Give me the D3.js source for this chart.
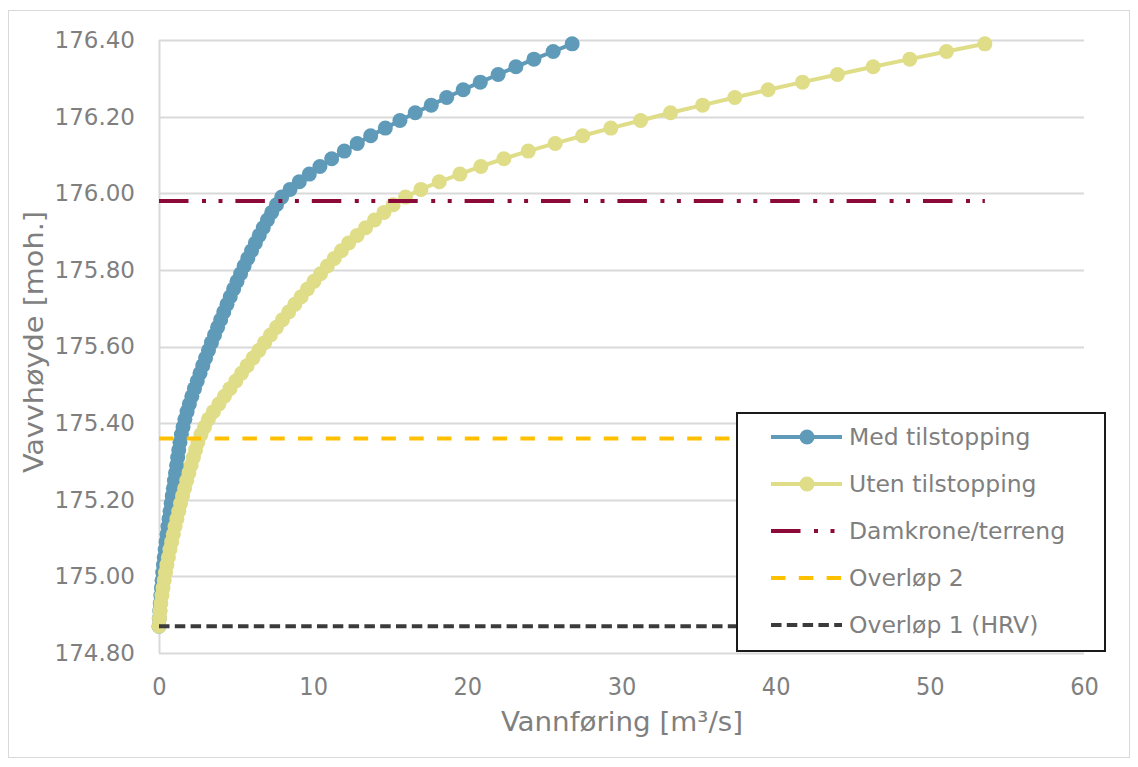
<!DOCTYPE html>
<html>
<head>
<meta charset="utf-8">
<script src="https://cdn.jsdelivr.net/npm/d3@7"></script>
<style>
  body { margin: 0; background: #fff; }
  svg { display: block; }
  .tick text { fill: #7f7f7f; }
  .cond { font-family: "DejaVu Sans Condensed", "DejaVu Sans", sans-serif; font-stretch: condensed; }
</style>
</head>
<body>
<script>
// water level (moh.) for every computed point, 0.02 m steps
var heights = [174.87,174.89,174.91,174.93,174.95,174.97,174.99,175.01,175.03,175.05,
  175.07,175.09,175.11,175.13,175.15,175.17,175.19,175.21,175.23,175.25,
  175.27,175.29,175.31,175.33,175.35,175.37,175.39,175.41,175.43,175.45,
  175.47,175.49,175.51,175.53,175.55,175.57,175.59,175.61,175.63,175.65,
  175.67,175.69,175.71,175.73,175.75,175.77,175.79,175.81,175.83,175.85,
  175.87,175.89,175.91,175.93,175.95,175.97,175.99,176.01,176.03,176.05,
  176.07,176.09,176.11,176.13,176.15,176.17,176.19,176.21,176.23,176.25,
  176.27,176.29,176.31,176.33,176.35,176.37,176.39];

// discharge (m3/s) with clogging
var qMed = [0,0.02,0.05,0.08,0.12,0.16,0.2,0.24,0.29,0.34,
  0.4,0.46,0.52,0.58,0.65,0.72,0.79,0.86,0.93,1.0,
  1.07,1.14,1.21,1.28,1.36,1.45,1.56,1.68,1.82,1.97,
  2.13,2.3,2.48,2.66,2.84,3.02,3.21,3.4,3.6,3.8,
  4.0,4.2,4.41,4.62,4.84,5.06,5.29,5.52,5.76,6.0,
  6.25,6.5,6.76,7.03,7.31,7.62,7.96,8.5,9.1,9.75,
  10.44,11.2,12.02,12.86,13.73,14.68,15.63,16.62,17.66,18.66,
  19.73,20.84,22.0,23.15,24.32,25.57,26.8];

// discharge (m3/s) without clogging
var qUten = [0,0.03,0.07,0.12,0.19,0.26,0.34,0.42,0.51,0.61,
  0.71,0.82,0.93,1.04,1.16,1.28,1.4,1.53,1.66,1.8,
  1.94,2.08,2.23,2.37,2.52,2.72,2.95,3.2,3.53,3.88,
  4.24,4.6,4.98,5.35,5.72,6.1,6.48,6.85,7.23,7.62,
  8.01,8.41,8.81,9.22,9.63,10.05,10.48,10.92,11.37,11.83,
  12.3,12.85,13.4,13.98,14.59,15.19,15.99,16.99,18.18,19.52,
  20.88,22.37,23.95,25.7,27.48,29.31,31.24,33.18,35.26,37.35,
  39.51,41.74,44.01,46.32,48.7,51.08,53.57];

// reference levels
var levelNames = ["Damkrone/terreng", "Overløp 2", "Overløp 1 (HRV)"];
var levelValues = [175.98, 175.36, 174.87];

var seriesNames = ["Med tilstopping", "Uten tilstopping"];
var xTicks = [0, 10, 20, 30, 40, 50, 60];
var yTicks = [174.8, 175.0, 175.2, 175.4, 175.6, 175.8, 176.0, 176.2, 176.4];

var svgWidth = 1138;
var svgHeight = 767;
var margin = { top: 40, right: 54, bottom: 114, left: 159 };
var width = svgWidth - margin.left - margin.right;
var height = svgHeight - margin.top - margin.bottom;

var svg = d3.select("body")
  .append("svg")
  .attr("width", svgWidth)
  .attr("height", svgHeight);

// chart border
svg.append("rect")
  .attr("x", 8.5).attr("y", 10.5)
  .attr("width", 1121).attr("height", 747)
  .attr("fill", "#fff")
  .attr("stroke", "#d9d9d9");

var chartGroup = svg.append("g")
  .attr("transform", `translate(${margin.left}, ${margin.top})`);

var xScale = d3.scaleLinear().domain([0, 60]).range([0, width]);
var yScale = d3.scaleLinear().domain([174.8, 176.4]).range([height, 0]);

// gridlines
chartGroup.append("g")
  .selectAll("line")
  .data(yTicks)
  .enter()
  .append("line")
  .attr("x1", 0).attr("x2", width)
  .attr("y1", d => Math.round(yScale(d)) + 0.5)
  .attr("y2", d => Math.round(yScale(d)) + 0.5)
  .attr("stroke", "#d9d9d9")
  .attr("stroke-width", 2);

chartGroup.append("line")
  .attr("x1", 0.5).attr("x2", 0.5)
  .attr("y1", 0).attr("y2", height)
  .attr("stroke", "#d9d9d9")
  .attr("stroke-width", 2);

// axes
var leftAxis = d3.axisLeft(yScale).tickValues(yTicks).tickFormat(d3.format(".2f"))
  .tickSize(0).tickPadding(24);
var bottomAxis = d3.axisBottom(xScale).tickValues(xTicks).tickFormat(d3.format("d"))
  .tickSize(0).tickPadding(24);

var yAxisG = chartGroup.append("g").call(leftAxis);
yAxisG.select(".domain").remove();
yAxisG.selectAll("text")
  .attr("font-family", "'DejaVu Sans', Verdana, sans-serif")
  .attr("font-size", "23px");

var xAxisG = chartGroup.append("g")
  .attr("transform", `translate(0, ${height})`)
  .call(bottomAxis);
xAxisG.select(".domain").remove();
xAxisG.selectAll("text")
  .attr("class", "cond")
  .attr("font-size", "25px");

// series
var colors = ["#5f9bb8", "#dfdd88"];
var seriesData = [qMed, qUten].map(q => q.map((v, i) => ({ q: v, h: heights[i] })));

var line = d3.line()
  .x(d => xScale(d.q))
  .y(d => yScale(d.h));

seriesData.forEach(function(points, s) {
  var g = chartGroup.append("g");
  g.append("path")
    .datum(points)
    .attr("d", line)
    .attr("fill", "none")
    .attr("stroke", colors[s])
    .attr("stroke-width", 4);
  g.selectAll("circle")
    .data(points)
    .enter()
    .append("circle")
    .attr("cx", d => xScale(d.q))
    .attr("cy", d => yScale(d.h))
    .attr("r", 7.5)
    .attr("fill", colors[s]);
});

// reference level lines
var levelColors = ["#8c0a38", "#ffc000", "#3b3b3b"];
var levelDash = ["29.5,13.5,4,12.5,4,12.9", "14.5,13.3", "10.5,5.3"];
var qMax = d3.max(qUten);

levelValues.forEach(function(v, i) {
  chartGroup.append("line")
    .attr("x1", xScale(0)).attr("x2", xScale(qMax))
    .attr("y1", yScale(v)).attr("y2", yScale(v))
    .attr("stroke", levelColors[i])
    .attr("stroke-width", 4)
    .attr("stroke-dasharray", levelDash[i]);
});

// legend
var legend = svg.append("g").attr("transform", "translate(737, 413)");
legend.append("rect")
  .attr("width", 368).attr("height", 238)
  .attr("fill", "#fff")
  .attr("stroke", "#1a1a1a")
  .attr("stroke-width", 2);

var legendNames = seriesNames.concat(levelNames);
var legendColors = colors.concat(levelColors);
var legendDash = [null, null].concat(levelDash);

legendNames.forEach(function(name, i) {
  var row = legend.append("g").attr("transform", `translate(0, ${24 + i * 47})`);
  row.append("line")
    .attr("x1", 34).attr("x2", 105)
    .attr("stroke", legendColors[i])
    .attr("stroke-width", 4)
    .attr("stroke-dasharray", legendDash[i]);
  if (i < 2) {
    row.append("circle")
      .attr("cx", 70).attr("r", 7.5)
      .attr("fill", legendColors[i]);
  }
  row.append("text")
    .attr("x", 112)
    .attr("dy", "0.36em")
    .attr("font-family", "'DejaVu Sans', Verdana, sans-serif")
    .attr("font-size", "23.5px")
    .attr("fill", "#7f7f7f")
    .text(name);
});

// axis titles
svg.append("text")
  .attr("class", "cond")
  .attr("x", 622).attr("y", 731)
  .attr("text-anchor", "middle")
  .attr("font-size", "27px")
  .attr("fill", "#7f7f7f")
  .attr("textLength", 242)
  .attr("lengthAdjust", "spacingAndGlyphs")
  .text("Vannføring [m³/s]");

svg.append("text")
  .attr("class", "cond")
  .attr("transform", "translate(43, 342) rotate(-90)")
  .attr("text-anchor", "middle")
  .attr("font-size", "27px")
  .attr("fill", "#7f7f7f")
  .attr("textLength", 262)
  .attr("lengthAdjust", "spacingAndGlyphs")
  .text("Vavvhøyde [moh.]");
</script>
</body>
</html>
